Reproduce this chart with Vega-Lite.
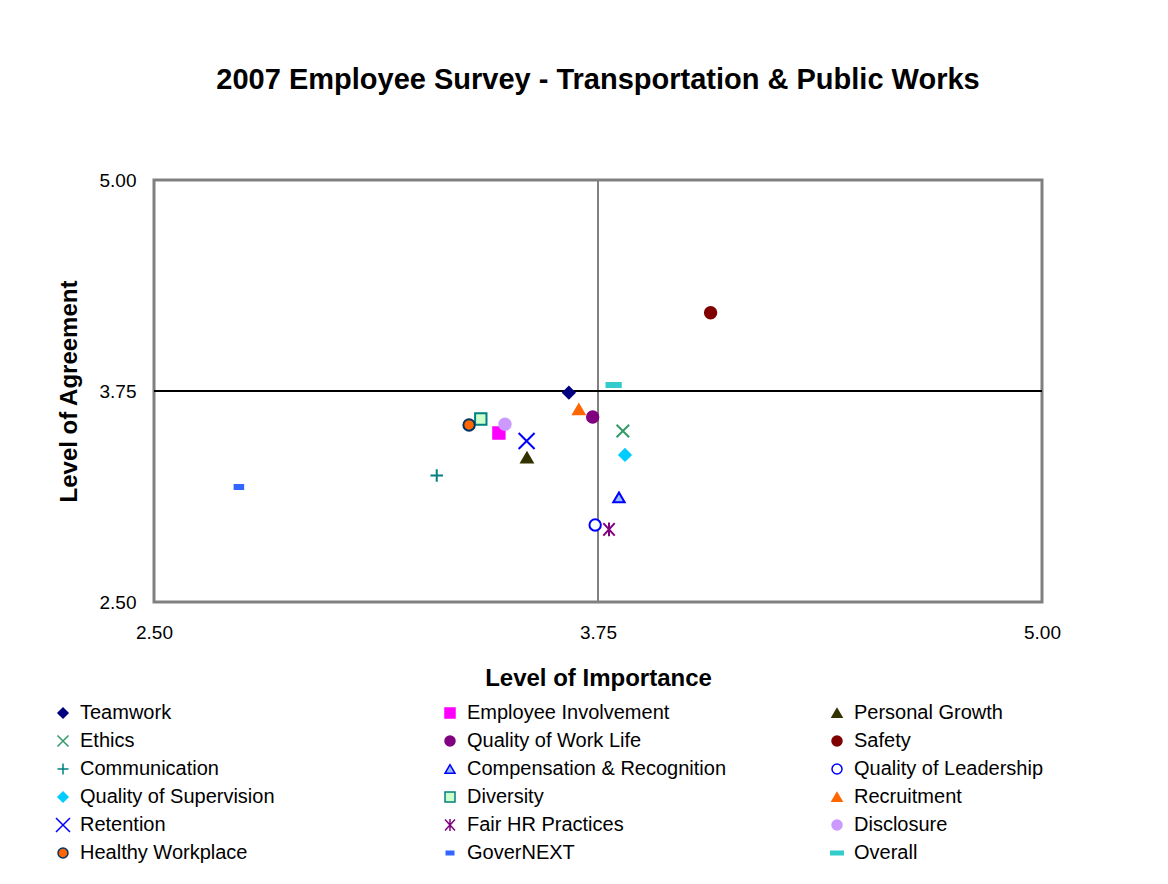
{
  "$schema": "https://vega.github.io/schema/vega-lite/v6.json",
  "width": 888,
  "height": 422,
  "autosize": {"type": "none"},
  "padding": {"left": 154, "top": 180, "right": 126, "bottom": 282},
  "background": "white",
  "title": {
    "text": "2007 Employee Survey - Transportation & Public Works",
    "font": "Liberation Sans",
    "fontSize": 29,
    "fontWeight": "bold",
    "color": "black",
    "anchor": "middle",
    "offset": 76
  },
  "config": {
    "view": {"stroke": "#808080", "strokeWidth": 3},
    "axis": {
      "labelFont": "Liberation Sans",
      "titleFont": "Liberation Sans",
      "labelColor": "black",
      "titleColor": "black",
      "grid": false,
      "domain": false,
      "ticks": false
    }
  },
  "data": {
    "values": [
      {"name": "Teamwork", "importance": 3.668, "agreement": 3.74},
      {"name": "Employee Involvement", "importance": 3.471, "agreement": 3.501},
      {"name": "Personal Growth", "importance": 3.55, "agreement": 3.355},
      {"name": "Ethics", "importance": 3.82, "agreement": 3.513},
      {"name": "Quality of Work Life", "importance": 3.735, "agreement": 3.596},
      {"name": "Safety", "importance": 4.067, "agreement": 4.214},
      {"name": "Communication", "importance": 3.296, "agreement": 3.25},
      {"name": "Compensation & Recognition", "importance": 3.809, "agreement": 3.12},
      {"name": "Quality of Leadership", "importance": 3.742, "agreement": 2.956},
      {"name": "Quality of Supervision", "importance": 3.826, "agreement": 3.371},
      {"name": "Diversity", "importance": 3.42, "agreement": 3.584},
      {"name": "Recruitment", "importance": 3.696, "agreement": 3.641},
      {"name": "Retention", "importance": 3.549, "agreement": 3.454},
      {"name": "Fair HR Practices", "importance": 3.781, "agreement": 2.93},
      {"name": "Disclosure", "importance": 3.488, "agreement": 3.553},
      {"name": "Healthy Workplace", "importance": 3.387, "agreement": 3.549},
      {"name": "GoverNEXT", "importance": 2.739, "agreement": 3.181},
      {"name": "Overall", "importance": 3.794, "agreement": 3.786}
    ]
  },
  "layer": [
    {
      "mark": {"type": "rule", "color": "#808080", "strokeWidth": 2},
      "encoding": {"x": {"datum": 3.75, "type": "quantitative"}}
    },
    {
      "mark": {"type": "rule", "color": "black", "strokeWidth": 1},
      "encoding": {"y": {"datum": 3.75, "type": "quantitative"}}
    },
    {
      "mark": {"type": "point", "size": 130, "strokeWidth": 2, "opacity": 1},
      "encoding": {
        "x": {
          "field": "importance",
          "type": "quantitative",
          "scale": {"domain": [2.5, 5], "nice": false, "zero": false},
          "axis": {
            "values": [2.5, 3.75, 5],
            "format": ".2f",
            "labelFontSize": 19,
            "labelPadding": 21,
            "labelFlush": false,
            "labelOverlap": false,
            "title": "Level of Importance",
            "titleFontSize": 24,
            "titleFontWeight": "bold",
            "titlePadding": 24
          }
        },
        "y": {
          "field": "agreement",
          "type": "quantitative",
          "scale": {"domain": [2.5, 5], "nice": false, "zero": false},
          "axis": {
            "values": [2.5, 3.75, 5],
            "format": ".2f",
            "labelFontSize": 19,
            "labelPadding": 18,
            "labelFlush": false,
            "labelOverlap": false,
            "title": "Level of Agreement",
            "titleFontSize": 24,
            "titleFontWeight": "bold",
            "titlePadding": 18
          }
        },
        "shape": {
          "field": "name",
          "type": "nominal",
          "scale": {
            "domain": ["Teamwork", "Ethics", "Communication", "Quality of Supervision", "Retention", "Healthy Workplace", "Employee Involvement", "Quality of Work Life", "Compensation & Recognition", "Diversity", "Fair HR Practices", "GoverNEXT", "Personal Growth", "Safety", "Quality of Leadership", "Recruitment", "Disclosure", "Overall"],
            "range": ["diamond", "M-1.1,-1.1L1.1,1.1M1.1,-1.1L-1.1,1.1", "M-1.1,0L1.1,0M0,-1.1L0,1.1", "diamond", "M-1.4,-1.4L1.4,1.4M1.4,-1.4L-1.4,1.4", "circle", "square", "circle", "triangle-up", "square", "M-1,-1.1L1,1.1M1,-1.1L-1,1.1M0,-1.2L0,1.2", "M-0.75,-0.35L0.75,-0.35L0.75,0.35L-0.75,0.35Z", "triangle-up", "circle", "circle", "triangle-up", "circle", "M-1.25,-0.35L1.25,-0.35L1.25,0.35L-1.25,0.35Z"]
          }
        },
        "fill": {
          "field": "name",
          "type": "nominal",
          "scale": {
            "domain": ["Teamwork", "Ethics", "Communication", "Quality of Supervision", "Retention", "Healthy Workplace", "Employee Involvement", "Quality of Work Life", "Compensation & Recognition", "Diversity", "Fair HR Practices", "GoverNEXT", "Personal Growth", "Safety", "Quality of Leadership", "Recruitment", "Disclosure", "Overall"],
            "range": ["#000080", "transparent", "transparent", "#00CCFF", "transparent", "#FF6600", "#FF00FF", "#800080", "#99BBFF", "#CCFFCC", "transparent", "#3366FF", "#333300", "#800000", "white", "#FF6600", "#CC99FF", "#33CCCC"]
          }
        },
        "stroke": {
          "field": "name",
          "type": "nominal",
          "scale": {
            "domain": ["Teamwork", "Ethics", "Communication", "Quality of Supervision", "Retention", "Healthy Workplace", "Employee Involvement", "Quality of Work Life", "Compensation & Recognition", "Diversity", "Fair HR Practices", "GoverNEXT", "Personal Growth", "Safety", "Quality of Leadership", "Recruitment", "Disclosure", "Overall"],
            "range": ["#000080", "#339966", "#008080", "#00CCFF", "#0000FF", "#003366", "#FF00FF", "#800080", "#0000FF", "#008080", "#800080", "#3366FF", "#333300", "#800000", "#0000FF", "#FF6600", "#CC99FF", "#33CCCC"]
          },
          "legend": {
            "title": null,
            "orient": "none",
            "legendX": -101,
            "legendY": 523,
            "columns": 3,
            "gridAlign": "all",
            "columnPadding": 100,
            "rowPadding": 8,
            "labelFont": "Liberation Sans",
            "labelFontSize": 20,
            "labelColor": "black",
            "labelLimit": 400,
            "labelOffset": 7,
            "symbolSize": 100,
            "symbolStrokeWidth": 1.5,
            "padding": 0
          }
        }
      }
    }
  ]
}
